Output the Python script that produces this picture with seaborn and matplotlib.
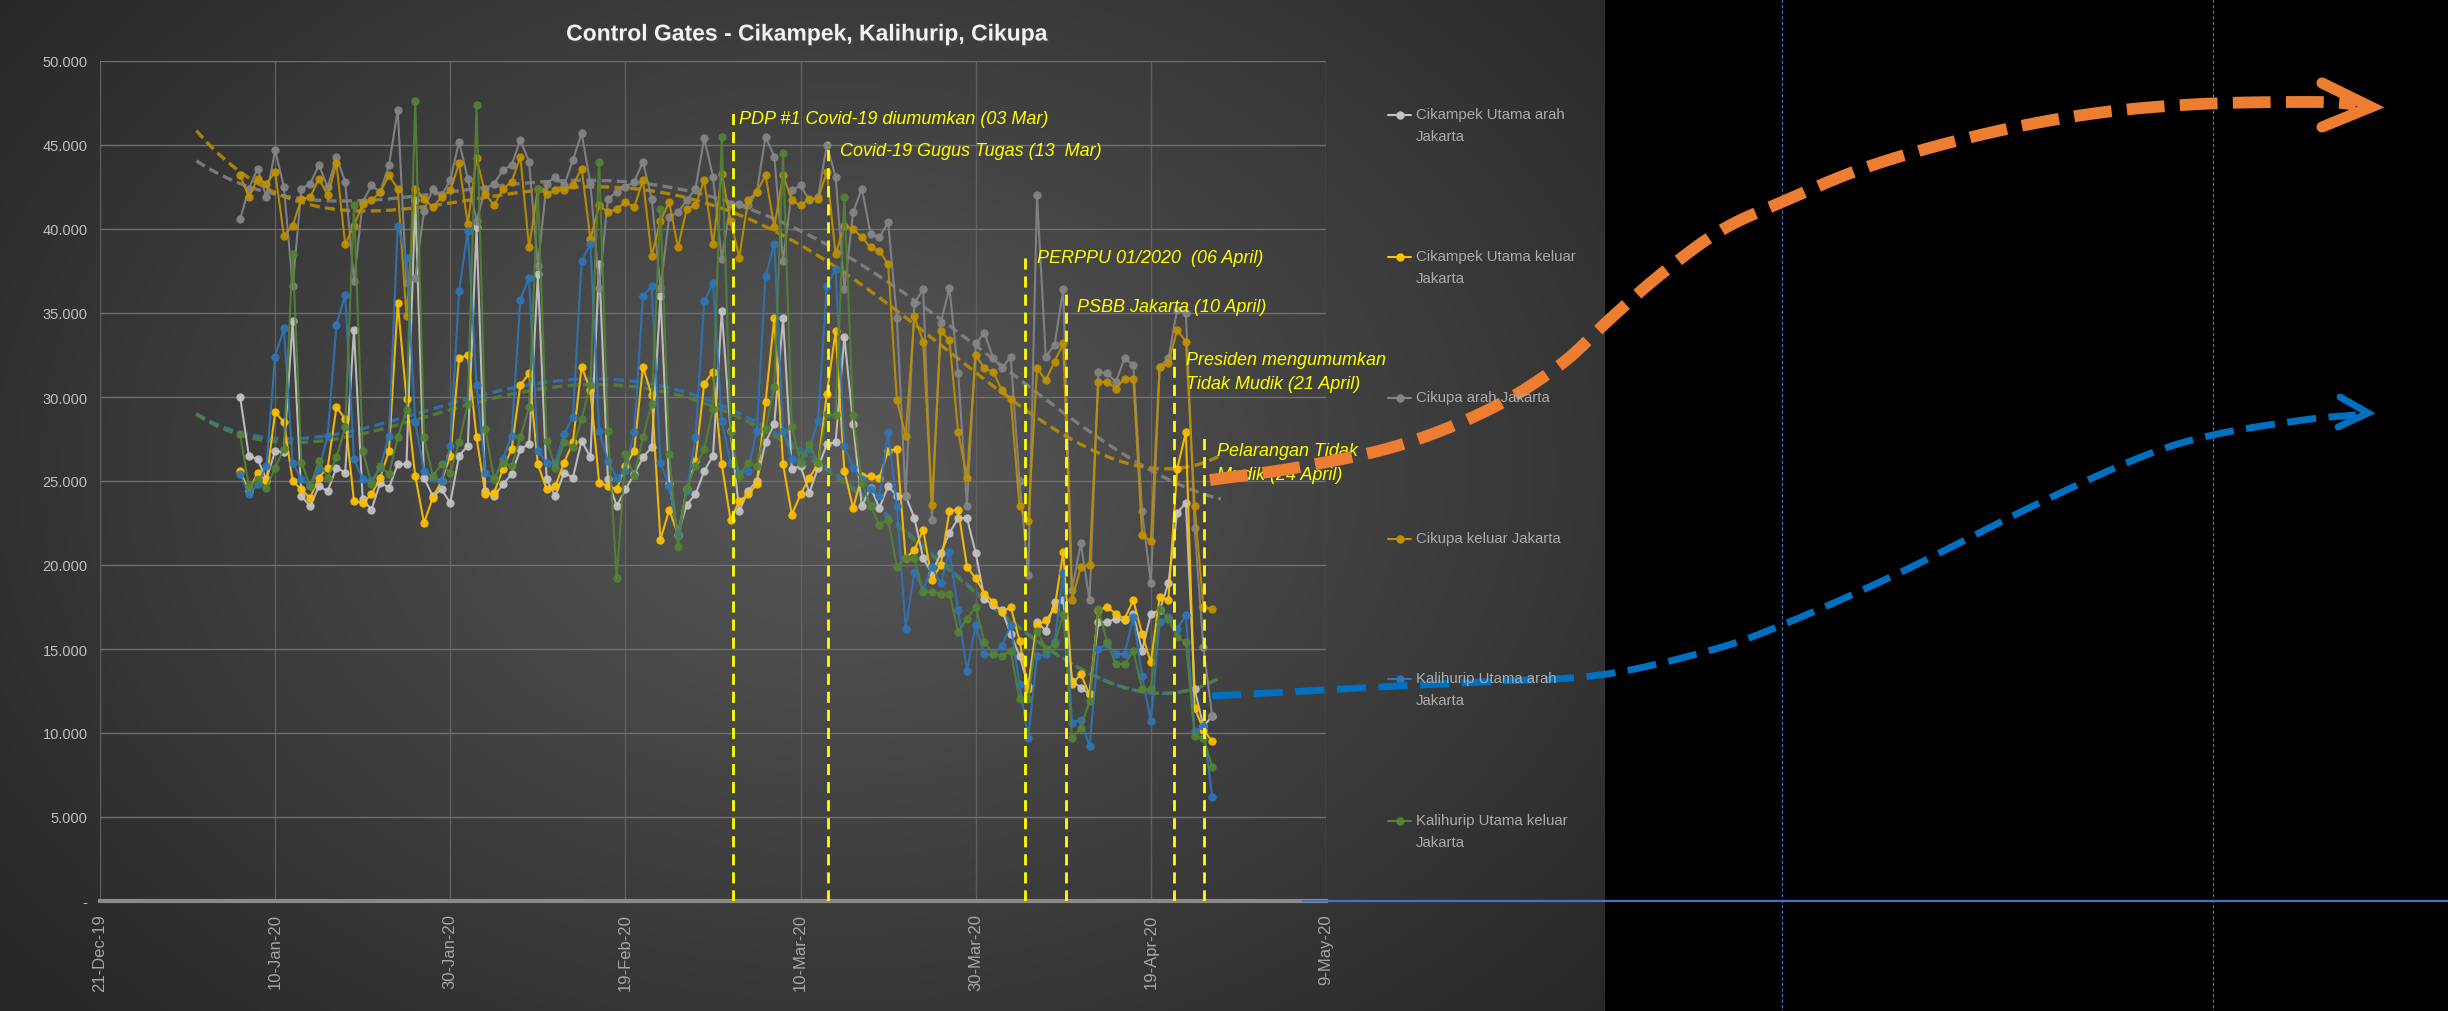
import numpy as np
import pandas as pd
import matplotlib
matplotlib.use("Agg")
import matplotlib.pyplot as plt
import matplotlib.patheffects as pe
from matplotlib.ticker import FuncFormatter, MultipleLocator
import seaborn as sns

# ---- data (daily traffic, thousands of vehicles, 6 Jan - 26 Apr 2020) ----
dates = pd.date_range("2020-01-06", "2020-04-26", freq="D")

cikampek_arah = [
    30.0, 26.5, 26.3, 25.1, 26.8, 26.7, 34.5,
    24.1, 23.5, 24.7, 24.4, 25.8, 25.5, 34.0,
    23.9, 23.3, 24.9, 24.6, 26.0, 26.0, 41.7,
    25.2, 24.1, 24.5, 23.7, 26.5, 27.1, 40.1,
    24.4, 24.1, 24.8, 25.4, 26.9, 27.2, 37.3,
    25.1, 24.1, 25.5, 25.2, 27.4, 26.4, 37.9,
    25.1, 23.5, 24.5, 25.4, 26.4, 27.0, 36.0,
    24.8, 21.8, 23.6, 24.2, 25.6, 26.5, 35.1,
    28.0, 23.2, 24.4, 25.0, 27.3, 28.4, 34.7,
    25.7, 25.9, 24.3, 25.8, 27.2, 27.3, 33.6,
    28.4, 23.5, 24.6, 23.4, 24.7, 24.1, 24.1,
    22.8, 20.4, 19.5, 20.7, 21.9, 22.8, 22.8,
    20.7, 18.0, 17.6, 17.3, 15.9, 14.6, 12.8,
    16.6, 16.1, 17.8, 17.9, 13.1, 12.7, 12.3,
    16.6, 16.6, 16.8, 16.7, 17.1, 14.9, 17.1,
    17.3, 18.9, 23.1, 23.7, 12.6, 10.4, 11.0,
]
cikampek_keluar = [
    25.6, 24.4, 25.5, 25.0, 29.1, 28.5, 25.0,
    24.5, 24.0, 25.2, 25.8, 29.4, 28.7, 23.8,
    23.7, 24.2, 25.2, 26.8, 35.6, 29.9, 25.3,
    22.5, 24.0, 25.0, 26.5, 32.3, 32.5, 27.6,
    24.2, 24.3, 25.7, 26.9, 30.7, 31.4, 26.0,
    24.5, 24.7, 26.1, 27.3, 31.8, 30.4, 24.9,
    24.7, 24.5, 25.9, 26.8, 31.8, 30.1, 21.5,
    23.3, 21.8, 24.5, 26.2, 30.8, 31.5, 26.0,
    22.7, 23.8, 24.2, 24.8, 29.7, 34.7, 26.0,
    23.0, 24.2, 25.2, 26.0, 30.2, 33.9, 25.6,
    23.4, 25.3, 25.3, 25.2, 26.8, 26.9, 20.4,
    20.9, 22.1, 19.1, 20.0, 23.2, 23.3, 19.9,
    19.2, 18.3, 17.8, 17.2, 17.5, 15.5, 12.6,
    16.4, 16.7, 17.4, 20.8, 12.9, 13.5, 12.3,
    17.3, 17.5, 17.1, 16.8, 17.9, 15.9, 14.2,
    18.1, 17.9, 25.7, 27.9, 11.5, 10.2, 9.5,
]
cikupa_arah = [
    40.6, 42.4, 43.6, 41.9, 44.7, 42.5, 36.6,
    42.4, 42.7, 43.8, 42.5, 44.3, 42.8, 36.9,
    41.6, 42.6, 42.2, 43.8, 47.1, 36.8, 37.1,
    41.1, 42.4, 42.0, 42.9, 45.2, 43.0, 40.5,
    42.4, 42.7, 43.5, 43.8, 45.3, 44.0, 37.8,
    42.7, 43.1, 42.6, 44.1, 45.7, 42.7, 36.5,
    41.8, 42.2, 42.5, 42.8, 44.0, 41.8, 36.5,
    40.7, 41.0, 41.7, 42.4, 45.4, 43.1, 38.2,
    41.5, 41.5, 41.4, 42.2, 45.5, 44.3, 38.1,
    42.3, 42.6, 41.7, 41.9, 45.0, 43.1, 36.4,
    41.0, 42.4, 39.7, 39.5, 40.4, 34.7, 24.1,
    35.6, 36.4, 22.7, 34.4, 36.5, 31.4, 23.5,
    33.2, 33.8, 32.3, 31.7, 32.4, 25.0, 19.4,
    42.0, 32.4, 33.1, 36.4, 18.5, 21.3, 17.9,
    31.5, 31.4, 30.9, 32.3, 31.9, 23.2, 18.9,
    31.8, 32.3, 35.2, 35.0, 22.2, 15.1, 11.0,
]
cikupa_keluar = [
    43.2, 41.9, 43.0, 42.7, 43.4, 39.6, 40.2,
    41.8, 41.9, 43.0, 42.0, 43.9, 39.1, 40.2,
    41.5, 41.7, 42.2, 43.2, 42.4, 34.8, 42.4,
    41.8, 41.3, 41.9, 42.3, 43.9, 40.3, 44.2,
    42.1, 41.4, 42.4, 42.8, 44.3, 38.9, 42.4,
    42.1, 42.3, 42.3, 42.6, 43.6, 39.4, 41.4,
    41.0, 41.2, 41.6, 41.3, 42.9, 38.4, 40.5,
    41.6, 38.9, 41.2, 41.4, 42.9, 39.1, 43.3,
    40.5, 38.3, 41.7, 42.2, 43.2, 40.1, 43.2,
    41.7, 41.4, 41.8, 41.8, 43.4, 38.5, 40.2,
    40.0, 39.5, 38.9, 38.7, 37.9, 29.8, 27.7,
    34.8, 33.3, 23.6, 33.9, 33.4, 27.9, 25.2,
    32.5, 31.7, 31.5, 30.4, 29.9, 23.5, 22.6,
    31.7, 31.0, 32.1, 33.2, 17.9, 19.9, 20.0,
    30.9, 30.9, 30.5, 31.1, 31.1, 21.8, 21.4,
    31.8, 32.0, 34.0, 33.3, 23.5, 17.5, 17.4,
]
kalihurip_arah = [
    25.4, 24.2, 24.8, 25.9, 32.4, 34.1, 26.1,
    25.1, 24.7, 25.7, 27.7, 34.3, 36.1, 26.3,
    25.1, 25.0, 25.8, 27.7, 40.2, 38.3, 28.5,
    25.6, 25.2, 25.0, 27.1, 36.3, 39.9, 30.7,
    25.5, 25.1, 26.3, 27.7, 35.8, 37.1, 26.8,
    26.1, 26.1, 27.8, 28.8, 38.1, 39.1, 28.0,
    26.2, 25.2, 25.6, 27.9, 36.0, 36.6, 26.1,
    24.7, 21.8, 24.4, 27.6, 35.7, 36.8, 28.6,
    26.1, 25.5, 25.6, 28.0, 37.2, 39.1, 28.0,
    26.3, 26.2, 26.9, 28.6, 36.6, 37.6, 27.1,
    25.8, 25.1, 24.5, 24.1, 27.9, 23.5, 16.2,
    19.6, 18.5, 19.9, 18.9, 20.8, 17.3, 13.7,
    16.4, 14.7, 14.7, 15.2, 16.4, 12.9, 9.7,
    14.6, 14.7, 15.4, 19.5, 10.6, 10.8, 9.2,
    15.0, 15.3, 14.7, 14.7, 16.9, 13.4, 10.7,
    16.6, 16.9, 16.2, 17.0, 10.1, 10.4, 6.2,
]
kalihurip_keluar = [
    27.8, 24.7, 25.1, 24.6, 25.8, 26.9, 38.5,
    26.1, 24.7, 26.2, 25.2, 26.4, 28.2, 41.4,
    26.8, 24.8, 25.9, 25.4, 27.6, 29.2, 47.6,
    27.6, 25.3, 26.0, 25.5, 27.3, 29.6, 47.4,
    28.1, 25.1, 26.1, 25.9, 27.6, 29.4, 42.4,
    27.4, 25.8, 27.3, 27.0, 28.7, 30.7, 44.0,
    28.0, 19.2, 26.6, 25.3, 27.6, 29.6, 41.2,
    26.6, 21.1, 24.6, 25.9, 26.9, 29.3, 45.5,
    27.9, 25.3, 26.1, 25.9, 28.1, 30.6, 44.5,
    28.2, 26.1, 27.2, 26.1, 29.0, 28.9, 41.9,
    28.9, 24.9, 23.5, 22.4, 22.7, 19.9, 20.4,
    20.4, 18.4, 18.4, 18.3, 18.3, 16.0, 16.8,
    17.5, 15.4, 14.7, 14.6, 14.9, 12.0, 12.0,
    16.1, 15.0, 15.3, 17.1, 9.7, 10.3, 11.9,
    17.4, 15.4, 14.1, 14.1, 14.9, 12.6, 12.6,
    17.4, 16.8, 15.7, 15.4, 9.8, 9.7, 8.0,
]

series_names = [
    "Cikampek Utama arah\nJakarta",
    "Cikampek Utama keluar\nJakarta",
    "Cikupa arah Jakarta",
    "Cikupa keluar Jakarta",
    "Kalihurip Utama arah\nJakarta",
    "Kalihurip Utama keluar\nJakarta",
]
series_values = [cikampek_arah, cikampek_keluar, cikupa_arah,
                 cikupa_keluar, kalihurip_arah, kalihurip_keluar]
series_colors = ["#c4c4c4", "#ffc000", "#858585", "#bf9000", "#2e75b6", "#548235"]
with_trend = [False, False, True, True, True, True]

# events: day offset from 21-Dec-19, top of the marker line (thousands)
event_days = [72.3, 83.1, 105.6, 110.3, 122.6, 126.1]
event_tops = [47.1, 45.2, 38.5, 36.3, 32.9, 27.9]
event_labels = [
    "PDP #1 Covid-19 diumumkan (03 Mar)",
    "Covid-19 Gugus Tugas (13  Mar)",
    "PERPPU 01/2020  (06 April)",
    "PSBB Jakarta (10 April)",
    "Presiden mengumumkan\nTidak Mudik (21 April)",
    "Pelarangan Tidak\nMudik (24 April)",
]
label_days = [73.0, 84.5, 107.0, 111.6, 124.0, 127.6]
label_vals = [46.6, 44.7, 38.3, 35.4, 31.5, 26.1]

W, H = 2448, 1012
PANEL_W = 1605

sns.set_theme(style="dark")
plt.rcParams["font.family"] = ["Liberation Sans", "DejaVu Sans"]

fig = plt.figure(figsize=(W / 100, H / 100), dpi=100, facecolor="black")

# dark chart panel with radial shading
bg = fig.add_axes([0, 0, PANEL_W / W, 1], zorder=0)
gy, gx = np.mgrid[0:H, 0:PANEL_W]
r = np.sqrt(((gx - 840) / 1050.0) ** 2 + ((gy - 470) / 780.0) ** 2)
shade = 0.345 - 0.19 * np.clip(r, 0, 1)
bg.imshow(np.dstack([shade] * 3), aspect="auto", extent=(0, PANEL_W, H, 0))
bg.axis("off")

ax = fig.add_axes([100 / W, 110 / H, 1226 / W, 840 / H], zorder=2)
ax.patch.set_alpha(0)

base = pd.Timestamp("2019-12-21")
xs = (dates - base).days.values.astype(float)

for name, vals, col, tr in zip(series_names, series_values, series_colors, with_trend):
    y = np.array(vals) * 1000
    if tr:
        poly = np.polynomial.Polynomial.fit(xs, y, 4)
        tx = np.linspace(xs[0] - 5, xs[-1] + 1, 200)
        tdates = base + pd.to_timedelta(tx, unit="D")
        sns.lineplot(x=tdates, y=poly(tx), ax=ax, color=col, lw=2.4, alpha=0.85,
                     linestyle=(0, (3, 1.6)), legend=False, zorder=3)
    sns.lineplot(x=dates, y=y, ax=ax, color=col, lw=1.5, alpha=0.92, marker="o",
                 markersize=6, markeredgewidth=0, legend=False, zorder=4)

# event marker lines and captions
for d, top, lab, ld, lv in zip(event_days, event_tops, event_labels, label_days, label_vals):
    xd = base + pd.Timedelta(days=d)
    ax.plot([xd, xd], [0, top * 1000], color="#ffff00", lw=2,
            linestyle=(0, (4, 2.5)), zorder=5)
    ax.text(base + pd.Timedelta(days=ld), lv * 1000, lab, color="#ffff00",
            fontsize=13, style="italic", va="center", ha="left",
            linespacing=1.55, zorder=6)

ax.set_xlim(base, pd.Timestamp("2020-05-09"))
ax.set_ylim(0, 50000)
ticks = pd.date_range(base, "2020-05-09", freq="20D")
ax.set_xticks(ticks)
ax.set_xticklabels([f"{t.day}-{t:%b-%y}" for t in ticks], rotation=90,
                   color="#a6a6a6", fontsize=12)
ax.yaxis.set_major_locator(MultipleLocator(5000))
ax.yaxis.set_major_formatter(FuncFormatter(
    lambda v, p: "-" if v == 0 else f"{int(v):,}".replace(",", ".")))
ax.tick_params(axis="y", colors="#bfbfbf", labelsize=10.5, length=0, pad=9)
ax.tick_params(axis="x", length=0, pad=9)
ax.grid(True, axis="y", color="#6f6f6f", lw=1)
ax.grid(True, axis="x", color="#5f5f5f", lw=1)
for s in ["top", "right", "left"]:
    ax.spines[s].set_visible(False)
ax.spines["bottom"].set_color("#8a8a8a")
ax.spines["bottom"].set_linewidth(3)
ax.set_xlabel("")
ax.set_ylabel("")

fig.text(806 / W, 1 - 35 / H, "Control Gates - Cikampek, Kalihurip, Cikupa",
         ha="center", va="center", color="#f2f2f2", fontsize=16.5, weight="bold",
         path_effects=[pe.withSimplePatchShadow(offset=(1.5, -1.5), alpha=0.7)])

# overlay in pixel coordinates: legend, helper lines, arrows
ov = fig.add_axes([0, 0, 1, 1], zorder=5)
ov.set_xlim(0, W)
ov.set_ylim(H, 0)
ov.axis("off")
ov.patch.set_alpha(0)

legend_y = [116, 258, 399, 540, 680, 822]
for name, col, ly in zip(series_names, series_colors, legend_y):
    ov.plot([1388, 1411], [ly, ly], color=col, lw=1.5)
    ov.plot([1399.5], [ly], marker="o", color=col, markersize=6, markeredgewidth=0)
    ov.text(1416, ly - 8, name, color="#ababab", fontsize=10.8,
            ha="left", va="top", linespacing=1.75)

ov.plot([1303, W], [902, 902], color="#4472c4", lw=1.6)
for vx in [1782, 2213]:
    ov.plot([vx, vx], [0, H], color="#4472c4", lw=0.8, linestyle=(0, (3, 2)))


def smooth(pts, n=30):
    p = np.asarray(pts, float)
    p = np.vstack([p[0], p, p[-1]])
    out = []
    t = np.linspace(0, 1, n, endpoint=False)[:, None]
    for i in range(1, len(p) - 2):
        p0, p1, p2, p3 = p[i - 1], p[i], p[i + 1], p[i + 2]
        out.append(0.5 * (2 * p1 + (-p0 + p2) * t + (2 * p0 - 5 * p1 + 4 * p2 - p3) * t ** 2
                          + (-p0 + 3 * p1 - 3 * p2 + p3) * t ** 3))
    out.append(p[-2][None])
    return np.vstack(out)


orange_path = [(1210, 481), (1300, 468), (1400, 446), (1490, 410), (1560, 366),
               (1610, 320), (1660, 276), (1720, 232), (1782, 203), (1870, 167),
               (1980, 136), (2090, 115), (2200, 105), (2320, 103), (2356, 106)]
blue_path = [(1212, 697), (1360, 689), (1480, 683), (1600, 676), (1708, 652),
             (1782, 626), (1897, 575), (2033, 507), (2141, 458), (2213, 436),
             (2303, 421), (2356, 416)]

c = smooth(orange_path)
ov.plot(c[:, 0], c[:, 1], color="#ed7d31", lw=8.5, linestyle=(0, (3.2, 1.3)),
        solid_capstyle="butt")
ov.plot([2322, 2371, 2322], [84, 108, 128], color="#ed7d31", lw=8,
        solid_capstyle="round", solid_joinstyle="miter")
c = smooth(blue_path)
ov.plot(c[:, 0], c[:, 1], color="#0070c0", lw=5, linestyle=(0, (4.2, 1.8)))
ov.plot([2340, 2368, 2338], [398, 414, 428], color="#0070c0", lw=5,
        solid_capstyle="round", solid_joinstyle="miter")

fig.savefig("out.png", dpi=100, facecolor="black")
